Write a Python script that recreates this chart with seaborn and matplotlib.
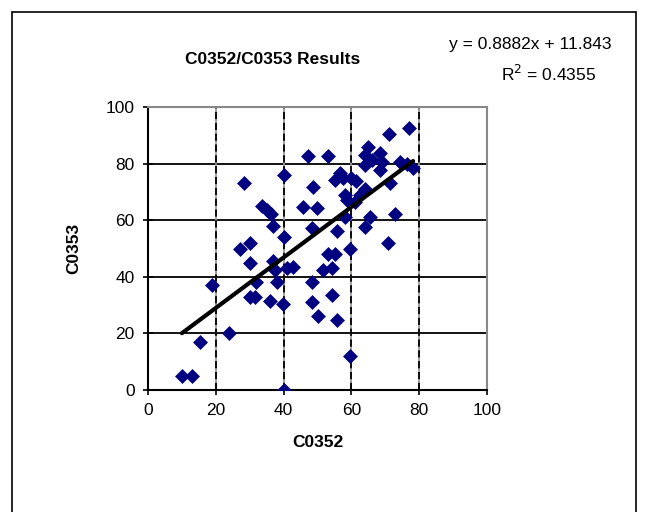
import numpy as np
import pandas as pd
import seaborn as sns
import matplotlib.pyplot as plt
from matplotlib.patches import Rectangle

# CO352 vs CO353 marks
co352 = [10, 13, 15.3, 19, 24, 40, 27, 30, 30, 37, 37.5, 41, 42.8, 32, 38.2, 30,
         31.6, 36, 39.8, 48.4, 48.4, 50, 47.2, 53, 40, 28.3, 48.7, 45.7, 49.8, 33.6,
         35, 36.3, 37, 40, 48.4, 56.6, 55.2, 57.5, 59.8, 61.5, 65, 64, 58, 58.6,
         77, 71, 64, 68.4, 66, 69, 68.4, 74.3, 78.2, 76.4, 71.4, 64, 62.5, 61,
         72.9, 65.5, 58, 55.7, 64, 70.8, 59.6, 53, 55.2, 51.6, 54.3, 54.3, 55.7, 59.6]
co353 = [5, 5, 17, 37, 20, 0, 50, 52, 45, 45.5, 42.5, 43, 43.5, 38, 38, 33,
         33, 31.5, 30.3, 38, 31, 26, 82.7, 82.7, 76, 73, 71.7, 64.7, 64.3, 65,
         63.6, 62.2, 58, 54, 57.3, 76.7, 74.2, 74.8, 75, 74, 86, 79.5, 69, 67,
         92.6, 90.6, 83, 83.7, 81.3, 80.6, 77.7, 80.4, 78.6, 80, 73, 71, 69, 66.4,
         62.2, 61.2, 61.2, 56.3, 57.6, 52, 50, 48, 48, 42.4, 43, 33.6, 24.7, 12]

ticks = [0, 20, 40, 60, 80, 100]

df = pd.DataFrame({"CO352": co352, "CO353": co353})

sns.set_style("white")
plt.rcParams['font.family'] = ['Liberation Sans', 'DejaVu Sans']
plt.rcParams['text.color'] = 'black'
plt.rcParams['axes.labelcolor'] = 'black'
plt.rcParams['xtick.color'] = 'black'
plt.rcParams['ytick.color'] = 'black'

fig = plt.figure(figsize=(6.45, 5.12), dpi=100)
fig.patches.append(Rectangle((12 / 645, -0.05), 624 / 645, 1.05 - 12 / 512,
                             transform=fig.transFigure, fill=False,
                             edgecolor="black", linewidth=1.2))
ax = fig.add_axes([148 / 645, 1 - 390 / 512, 339 / 645, 283 / 512])

# grid: solid horizontal, dashed vertical
for t in ticks[1:-1]:
    ax.axhline(t, color="black", lw=1.3, zorder=0)
for t in ticks[1:]:
    ax.axvline(t, color="#999999", lw=1.3, zorder=0)
    if t != 100:
        ax.axvline(t, color="black", lw=1.3, dashes=(4, 2), zorder=0)

sns.scatterplot(data=df, x="CO352", y="CO353", marker="D", s=58,
                color="#000080", edgecolor="#000080", linewidth=0, ax=ax, zorder=3)
sns.regplot(data=df, x="CO352", y="CO353", scatter=False, ci=None, truncate=True,
            color="black", line_kws={"lw": 3, "zorder": 4}, ax=ax)

ax.set_xlim(0, 100)
ax.set_ylim(0, 100)
ax.set_xticks(ticks)
ax.set_yticks(ticks)
ax.tick_params(labelsize=12.5, direction="inout", length=7, width=1.2,
               color="black", pad=6, bottom=True, left=True)
for s in ["left", "bottom"]:
    ax.spines[s].set_color("black")
    ax.spines[s].set_linewidth(1.5)
for s in ["top", "right"]:
    ax.spines[s].set_color("#888888")
    ax.spines[s].set_linewidth(1.5)

ax.set_xlabel("C0352", fontsize=12.5, fontweight="bold", labelpad=12)
ax.set_ylabel("C0353", fontsize=12.5, fontweight="bold", labelpad=18)

fig.text(273 / 645, 1 - 60 / 512, "C0352/C0353 Results", fontsize=12.5,
         fontweight="bold", ha="center", va="center")
fig.text(530 / 645, 1 - 45 / 512, "y = 0.8882x + 11.843", fontsize=12.5,
         ha="center", va="center")
fig.text(549 / 645, 1 - 74 / 512, "R$^2$ = 0.4355", fontsize=12.5,
         ha="center", va="center")

fig.savefig("out.png", dpi=100)
